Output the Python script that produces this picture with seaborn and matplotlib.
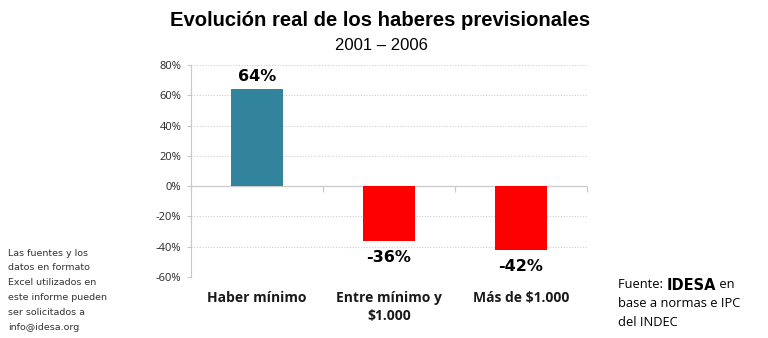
import matplotlib
matplotlib.use("Agg")
import matplotlib.pyplot as plt
import seaborn as sns
import pandas as pd

categories = ["Haber mínimo", "Entre mínimo y\n$1.000", "Más de $1.000"]
values = [64, -36, -42]
value_labels = ["64%", "-36%", "-42%"]
bar_colors = ["#31849B", "#FF0000", "#FF0000"]
yticks = [-60, -40, -20, 0, 20, 40, 60, 80]

sns.set_theme(style="white")
plt.rcParams["font.family"] = ["DejaVu Sans"]

W, H = 768, 338
fig = plt.figure(figsize=(W / 100, H / 100), dpi=100)
ax = fig.add_axes([191 / W, 1 - 277 / H, (587 - 191) / W, (277 - 65) / H])

df = pd.DataFrame({"cat": categories, "val": values})
sns.barplot(data=df, x="cat", y="val", hue="cat", palette=bar_colors,
            width=0.4, legend=False, ax=ax, saturation=1, edgecolor="none")

ax.set_ylim(-60, 80)
ax.set_xlim(-0.5, len(categories) - 0.5)
ax.set_yticks(yticks)
ax.set_yticklabels([f"{t}%" for t in yticks], fontsize=8, family="Open Sans", color="#262626")
ax.yaxis.grid(True, linestyle=(0, (1, 1.5)), color="#cfcfcf", linewidth=0.8)
ax.set_axisbelow(True)
ax.axhline(0, color="#c8c8c8", linewidth=0.9, zorder=0.5)
ax.tick_params(axis="y", length=3, color="#c8c8c8", width=0.8, pad=4, left=True)

ax.set_xlabel("")
ax.set_ylabel("")
ax.tick_params(axis="x", length=0, pad=10)
for lab in ax.get_xticklabels():
    lab.set_fontfamily("Open Sans")
    lab.set_fontweight("bold")
    lab.set_fontsize(10)
    lab.set_linespacing(1.35)
    lab.set_verticalalignment("top")
    lab.set_color("#1a1a1a")

for s in ["top", "right", "bottom"]:
    ax.spines[s].set_visible(False)
ax.spines["left"].set_color("#c8c8c8")
ax.spines["left"].set_linewidth(0.8)

# boundary ticks on the zero line
sec = ax.secondary_xaxis(60 / 140)
sec.set_xticks([i - 0.5 for i in range(len(categories) + 1)])
sec.set_xticklabels([])
sec.tick_params(length=4, color="#c8c8c8", width=0.8, direction="out")
sec.spines["bottom"].set_visible(False)

for i, (v, t) in enumerate(zip(values, value_labels)):
    off = 9 if v >= 0 else -12
    ax.annotate(t, (i, v), xytext=(0, off), textcoords="offset points",
                ha="center", va="center", fontsize=11.5, fontweight="heavy",
                family="DejaVu Sans", color="black")

fig.text(380 / W, 1 - 21 / H, "Evolución real de los haberes previsionales",
         ha="center", va="center", fontsize=14.6, fontweight="bold",
         family="Liberation Sans", color="black")
fig.text(381 / W, 1 - 45 / H, "2001 – 2006", ha="center", va="center",
         fontsize=12, family="Liberation Sans", color="black")

note_left = ["Las fuentes y los", "datos en formato", "Excel utilizados en",
             "este informe pueden", "ser solicitados a", "info@idesa.org"]
for k, line in enumerate(note_left):
    fig.text(8 / W, 1 - (253 + k * 14.8) / H, line, ha="left", va="center",
             fontsize=6.8, family="DejaVu Sans", color="#333333")

# right note with bold IDESA
renderer = fig.canvas.get_renderer()
t1 = fig.text(618 / W, 1 - 285 / H, "Fuente: ", ha="left", va="center",
              fontsize=9.3, family="Open Sans", color="black")
bb = t1.get_window_extent(renderer)
t2 = fig.text(bb.x1 / W, 1 - 285 / H, "IDESA", ha="left", va="center",
              fontsize=10.5, fontweight="heavy", family="DejaVu Sans", color="black")
bb2 = t2.get_window_extent(renderer)
fig.text(bb2.x1 / W, 1 - 285 / H, " en", ha="left", va="center",
         fontsize=9.3, family="Open Sans", color="black")
fig.text(618 / W, 1 - 303.5 / H, "base a normas e IPC", ha="left", va="center",
         fontsize=9.3, family="Open Sans", color="black")
fig.text(618 / W, 1 - 322 / H, "del INDEC", ha="left", va="center",
         fontsize=9.3, family="Open Sans", color="black")

fig.savefig("out.png", dpi=100, facecolor="white")
